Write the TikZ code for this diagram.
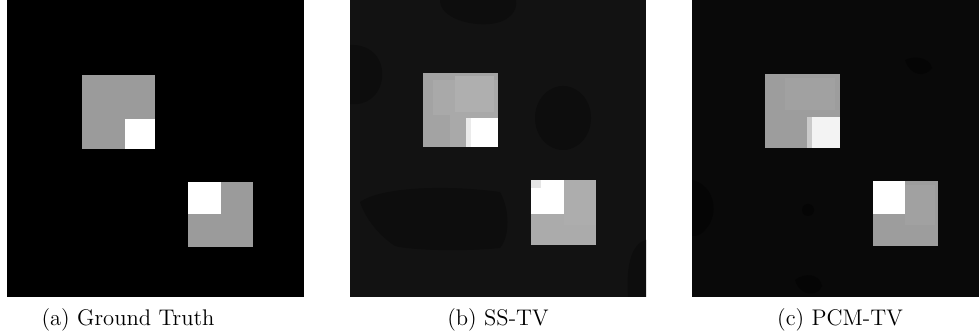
\documentclass[tikz,border=0pt]{standalone}
\usepackage{tikz}
\definecolor{gtgrey}{HTML}{9B9B9B}
\definecolor{bgb}{HTML}{121212}
\definecolor{blobb}{HTML}{0D0D0D}
\definecolor{sqbA}{HTML}{A3A3A3}
\definecolor{sqbM}{HTML}{A9A9A9}
\definecolor{sqbB}{HTML}{AFAFAF}
\definecolor{sqbC}{HTML}{ABABAB}
\definecolor{bgc}{HTML}{090909}
\definecolor{blobc}{HTML}{050505}
\definecolor{sqcA}{HTML}{9D9D9D}
\definecolor{sqcB}{HTML}{A1A1A1}
\definecolor{whc}{HTML}{F3F3F3}
\tikzset{
  caption/.style={font=\fontsize{11.3}{13}\selectfont, anchor=center, inner sep=0pt},
}
\begin{document}
\begin{tikzpicture}[x=0.5pt,y=-0.5pt]
\useasboundingbox (0,0) rectangle (979,335);
% ---------- (a) Ground truth ----------
\fill[black] (7,0) rectangle (304,297);
\fill[gtgrey] (82,75) rectangle (155,149);
\fill[white] (125,119) rectangle (155,149);
\fill[gtgrey] (188,182) rectangle (253,247);
\fill[white] (188,182) rectangle (221,214);
% ---------- (b) SS-TV ----------
\fill[bgb] (350,0) rectangle (646,297);
\begin{scope}
\clip (350,0) rectangle (646,297);
\fill[blobb] (440,0) .. controls (440,18) and (470,26) .. (490,24) .. controls (510,22) and (518,10) .. (516,0) -- cycle;
\fill[blobb] (350,45) .. controls (372,44) and (384,60) .. (382,78) .. controls (380,96) and (366,106) .. (350,104) -- cycle;
\fill[blobb] (563,118) ellipse [x radius=28, y radius=32];
\fill[blobb] (360,202) .. controls (380,188) and (440,184) .. (500,192) .. controls (510,210) and (510,236) .. (500,248) .. controls (460,252) and (410,250) .. (395,246) .. controls (380,236) and (366,220) .. (360,202) -- cycle;
\fill[blobb] (646,240) .. controls (630,244) and (626,270) .. (628,297) -- (646,297) -- cycle;
\end{scope}
\fill[sqbA] (423,73) rectangle (498,147);
\fill[sqbM] (433,80) rectangle (498,147);
\fill[sqbA] (433,115) rectangle (450,147);
\fill[sqbB] (455,76) rectangle (494,112);
\fill[white] (466,118) rectangle (498,147);
\fill[white!92!black] (466,118) rectangle (471,147);
\fill[sqbC] (531,180) rectangle (596,245);
\fill[sqbB!60!sqbC] (564,180) rectangle (596,225);
\fill[white] (531,180) rectangle (564,214);
\fill[white!90!black] (531,180) rectangle (541,188);
% ---------- (c) PCM-TV ----------
\fill[bgc] (692,0) rectangle (979,297);
\begin{scope}
\clip (692,0) rectangle (979,297);
\fill[blobc] (692,180) .. controls (715,185) and (720,215) .. (705,230) .. controls (700,236) and (695,236) .. (692,236) -- cycle;
\fill[blobc] (905,60) .. controls (915,55) and (930,58) .. (932,68) .. controls (925,78) and (910,76) .. (905,60) -- cycle;
\fill[blobc] (795,280) .. controls (805,272) and (820,274) .. (822,286) .. controls (818,297) and (800,297) .. (795,280) -- cycle;
\fill[blobc] (808,210) ellipse [x radius=6, y radius=6];
\end{scope}
\fill[sqcA] (765,74) rectangle (840,148);
\fill[sqcB] (785,78) rectangle (835,110);
\fill[whc] (807,117) rectangle (840,148);
\fill[sqcB!50!whc] (807,117) rectangle (812,148);
\fill[sqcA] (873,181) rectangle (938,246);
\fill[sqcB] (905,185) rectangle (935,225);
\fill[white] (873,181) rectangle (905,214);
% ---------- captions ----------
\node[caption] (capa) at (128,320) {(a) Ground Truth};
\node[caption] (capb) at (498,320) {(b) SS-TV};
\node[caption] (capc) at (840,320) {(c) PCM-TV};
\end{tikzpicture}
\end{document}
